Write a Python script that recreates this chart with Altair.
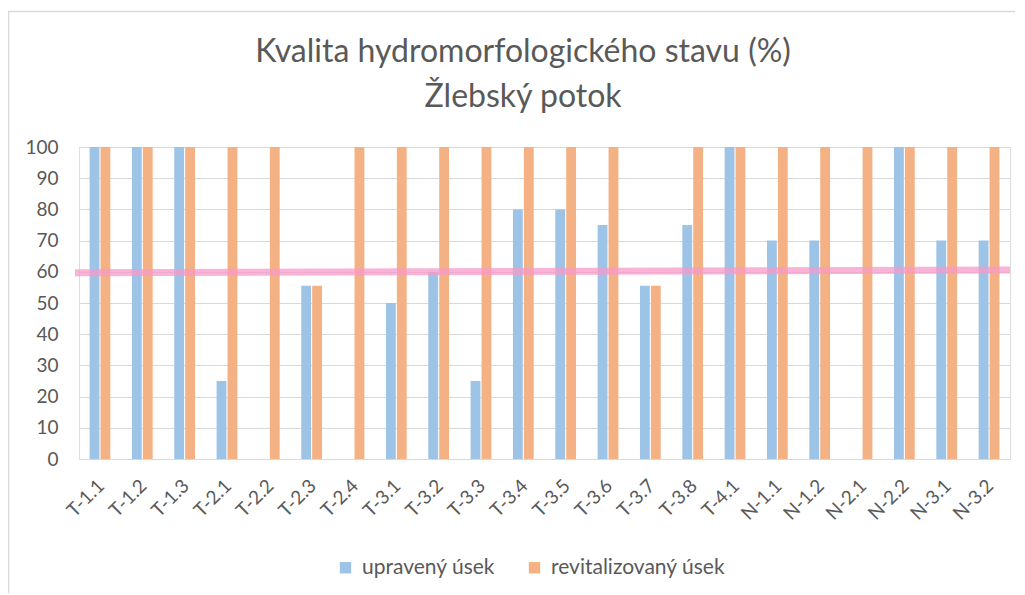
import altair as alt
import pandas as pd

categories = ["T-1.1", "T-1.2", "T-1.3", "T-2.1", "T-2.2", "T-2.3", "T-2.4", "T-3.1",
              "T-3.2", "T-3.3", "T-3.4", "T-3.5", "T-3.6", "T-3.7", "T-3.8", "T-4.1",
              "N-1.1", "N-1.2", "N-2.1", "N-2.2", "N-3.1", "N-3.2"]
upraveny = [100, 100, 100, 25, 0, 55.5, 0, 50, 60, 25, 80, 80, 75, 55.5, 75, 100,
            70, 70, 0, 100, 70, 70]
revitalizovany = [100, 100, 100, 100, 100, 55.5, 100, 100, 100, 100, 100, 100, 100,
                  55.5, 100, 100, 100, 100, 100, 100, 100, 100]
series = ["upravený úsek", "revitalizovaný úsek"]
colors = ["#9dc3e6", "#f4b183"]
limit_line = [59.7, 60.6]
y_ticks = [0, 10, 20, 30, 40, 50, 60, 70, 80, 90, 100]
title_lines = ["Kvalita hydromorfologického stavu (%)", "Žlebský potok"]

rows = []
for c, u, r in zip(categories, upraveny, revitalizovany):
    rows.append({"cat": c, "serie": series[0], "val": u})
    rows.append({"cat": c, "serie": series[1], "val": r})
df = pd.DataFrame(rows)

FONT = "Lato"
GRAY = "#595959"

y_axis = alt.Axis(values=y_ticks, labelFontSize=19, labelColor=GRAY, labelFont=FONT,
                  ticks=False, domain=False, gridColor="#d9d9d9", labelPadding=21,
                  labelOverlap=False, title=None)
y_scale = alt.Scale(domain=[0, 100], nice=False)

bars = alt.Chart(df).mark_bar().encode(
    x=alt.X("cat:N", sort=categories, title=None,
            scale=alt.Scale(paddingInner=0.51, paddingOuter=0.25),
            axis=alt.Axis(labelAngle=-45, labelAlign="right", labelBaseline="top",
                          labelFontSize=19, labelColor=GRAY, labelFont=FONT,
                          ticks=False, domainColor="#d9d9d9", labelPadding=17,
                          labelOffset=-5, grid=False, labelOverlap=False)),
    xOffset=alt.XOffset("serie:N", sort=series, scale=alt.Scale(paddingInner=0.1)),
    y=alt.Y("val:Q", title=None, scale=y_scale, axis=y_axis),
    color=alt.Color("serie:N", sort=series,
                    scale=alt.Scale(domain=series, range=colors),
                    legend=alt.Legend(title=None, orient="none", legendX=256, legendY=410,
                                      direction="horizontal", symbolType="square",
                                      symbolSize=130, symbolStrokeWidth=0, padding=0,
                                      labelFontSize=21, labelColor=GRAY, labelFont=FONT,
                                      labelLimit=400, columnPadding=28, labelOffset=6)),
)

line_df = pd.DataFrame({"y1": [limit_line[0]], "y2": [limit_line[1]]})
line = alt.Chart(line_df).mark_rule(color="#f79ac8", strokeWidth=7, opacity=0.75).encode(
    x=alt.value(-4), x2=alt.value(931),
    y=alt.Y("y1:Q", title=None, scale=y_scale, axis=y_axis), y2="y2:Q",
)

title_df = pd.DataFrame({"t": title_lines})
title1 = alt.Chart(title_df.iloc[[0]]).mark_text(
    font=FONT, fontSize=32, color=GRAY, align="center", baseline="alphabetic"
).encode(text="t:N", x=alt.value(444), y=alt.value(-85))
title2 = alt.Chart(title_df.iloc[[1]]).mark_text(
    font=FONT, fontSize=32, color=GRAY, align="center", baseline="alphabetic"
).encode(text="t:N", x=alt.value(444), y=alt.value(-40))

border_df = pd.DataFrame({"k": [0]})
border = alt.Chart(border_df).mark_rect(fill=None, stroke="#d9d9d9", strokeWidth=1.5).encode(
    x=alt.value(-70.5), x2=alt.value(1000), y=alt.value(-135.5), y2=alt.value(500),
)

chart = alt.layer(border, bars, line, title1, title2).properties(
    width=931, height=312,
    autosize=alt.AutoSizeParams(type="none"),
    padding={"left": 71, "top": 139, "right": 5, "bottom": 134},
).configure_view(strokeWidth=0, stroke="transparent").configure(font=FONT)

chart.save("out.html", embed_options={"renderer": "svg", "actions": False})
